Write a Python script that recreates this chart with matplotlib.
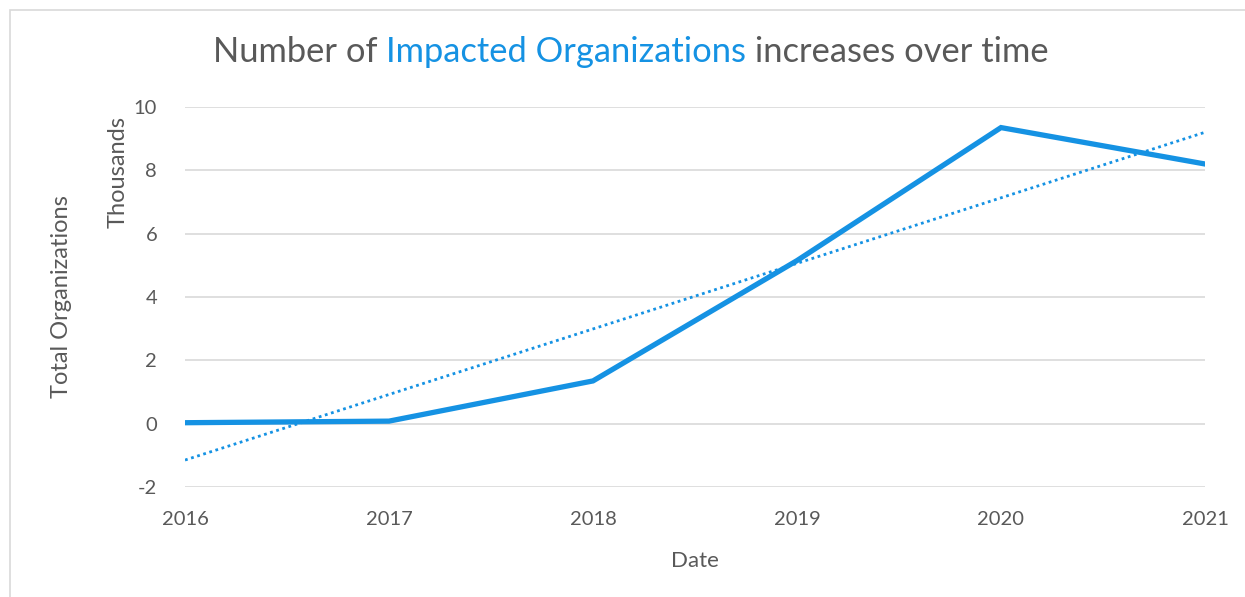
import numpy as np
import matplotlib.pyplot as plt
from matplotlib.patches import Rectangle

# data (thousands of organizations)
years = [2016, 2017, 2018, 2019, 2020, 2021]
orgs = [0.03, 0.08, 1.35, 5.15, 9.35, 8.2]
y_ticks = [-2, 0, 2, 4, 6, 8, 10]

blue = '#1592e3'
grey = '#595959'

plt.rcParams['font.family'] = ['Lato', 'DejaVu Sans']
plt.rcParams['axes.unicode_minus'] = False

fig = plt.figure(figsize=(12.45, 5.97), dpi=100)
ax = fig.add_axes([185 / 1245, 1 - 487 / 597, 1020 / 1245, 380 / 597])

# outer chart frame (Excel-like)
fig.patches.append(Rectangle((10 / 1245, -0.1), 1.2, (597 - 10) / 597 + 0.1,
                             transform=fig.transFigure, fill=False,
                             edgecolor='#d9d9d9', linewidth=1.2))

ax.plot(years, orgs, color=blue, linewidth=3.8, solid_joinstyle='miter', zorder=3)

# linear trendline like Excel's
k, b = np.polyfit(years, orgs, 1)
trend = [k * x + b for x in years]
ax.plot(years, trend, color=blue, linewidth=2, linestyle=(0, (1, 1.3)), zorder=2)

ax.set_xlim(years[0], years[-1])
ax.set_ylim(-2, 10)
ax.set_yticks(y_ticks)
ax.set_xticks(years)
ax.grid(axis='y', color='#d9d9d9', linewidth=1.2)
ax.set_axisbelow(True)
for s in ax.spines.values():
    s.set_visible(False)
ax.tick_params(length=0, labelsize=14.5, colors=grey, pad=17)
ax.tick_params(axis='y', pad=20)

ax.set_xlabel('Date', fontsize=16, color=grey, labelpad=17)
fig.text(62 / 1245, 1 - 297 / 597, 'Total Organizations', rotation=90, fontsize=17,
         color=grey, ha='center', va='center')
fig.text(118 / 1245, 1 - 172 / 597, 'Thousands', rotation=90, fontsize=17,
         color=grey, ha='center', va='center')

# title with a coloured middle part
parts = [('Number of ', grey), ('Impacted Organizations', blue), (' increases over time', grey)]
fig.canvas.draw()
r = fig.canvas.get_renderer()
x = 213
for txt, c in parts:
    t = fig.text(x / 1245, 1 - 52 / 597, txt, fontsize=24.8, color=c, va='center', ha='left')
    x += t.get_window_extent(r).width

fig.savefig('out.png', dpi=100)
